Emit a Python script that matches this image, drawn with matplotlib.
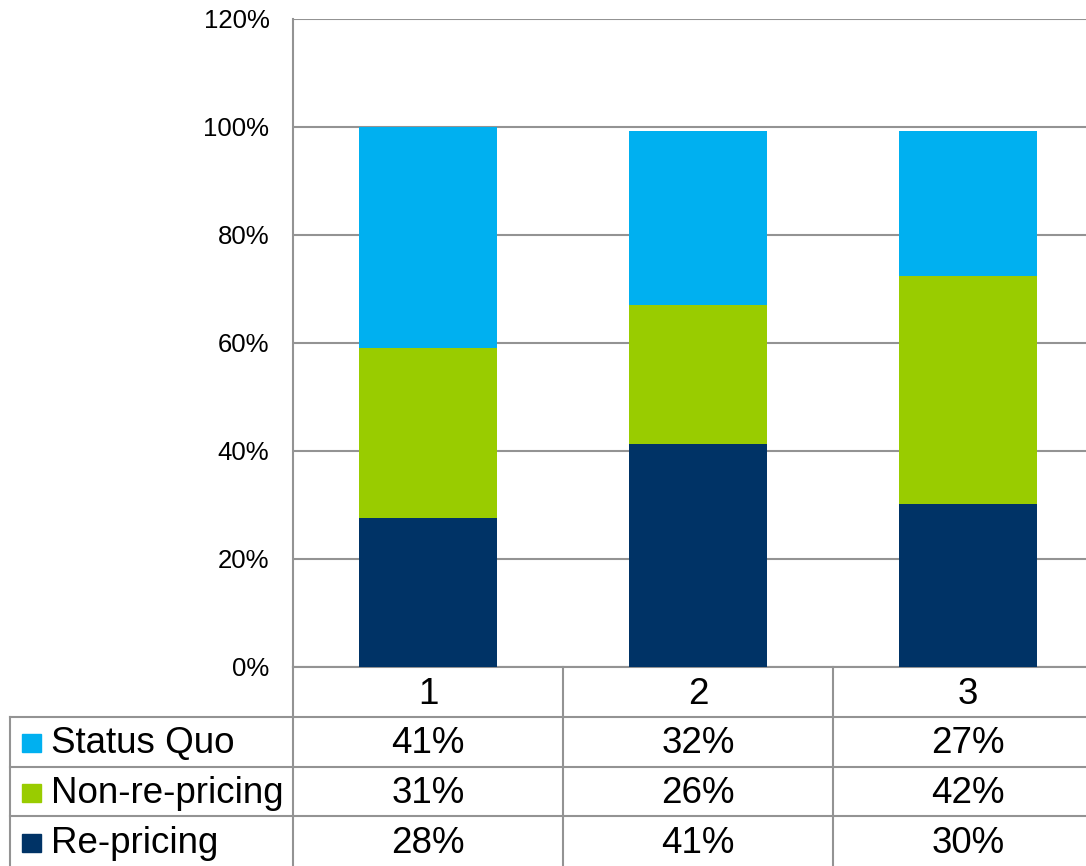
import matplotlib.pyplot as plt
from matplotlib.patches import Rectangle

plt.rcParams['font.family'] = ['Liberation Sans', 'DejaVu Sans']

# data
categories = ['1', '2', '3']
series_names = ['Status Quo', 'Non-re-pricing', 'Re-pricing']
re_pricing = [27.6, 41.3, 30.2]
non_re_pricing = [31.4, 25.8, 42.2]
status_quo = [41.0, 32.2, 26.9]
colors = {'Status Quo': '#00B0F0', 'Non-re-pricing': '#99CC00', 'Re-pricing': '#003366'}
y_ticks = [0, 20, 40, 60, 80, 100, 120]

W, H = 1086, 866
fig = plt.figure(figsize=(W / 100, H / 100), dpi=100)

grid_col = '#939393'
ax_left, ax_right, ax_top, ax_bottom = 293, 1103, 19, 667
ax = fig.add_axes([ax_left / W, (H - ax_bottom) / H,
                   (ax_right - ax_left) / W, (ax_bottom - ax_top) / H])

x = list(range(len(categories)))
bottom2 = [a + b for a, b in zip(re_pricing, non_re_pricing)]
ax.bar(x, re_pricing, width=0.51, color=colors['Re-pricing'], zorder=3)
ax.bar(x, non_re_pricing, width=0.51, bottom=re_pricing,
       color=colors['Non-re-pricing'], zorder=3)
ax.bar(x, status_quo, width=0.51, bottom=bottom2,
       color=colors['Status Quo'], zorder=3)

ax.set_xlim(-0.5, 2.5)
ax.set_ylim(0, 120)
ax.set_yticks(y_ticks)
ax.set_yticklabels([f'{t}%' for t in y_ticks], fontsize=18.5)
ax.set_xticks([])
ax.tick_params(axis='y', length=0, pad=17)
ax.grid(axis='y', color=grid_col, linewidth=1.5, zorder=0)
for s in ['top', 'right']:
    ax.spines[s].set_visible(False)
ax.spines['left'].set_color(grid_col)
ax.spines['left'].set_linewidth(1.5)
ax.spines['bottom'].set_color(grid_col)
ax.spines['bottom'].set_linewidth(1.5)

# data table under the chart
tab = fig.add_axes([ax_left / W, 0, (ax_right - ax_left) / W, (H - ax_bottom) / H],
                   sharex=ax)
tab.set_ylim(4, 0)
tab.axis('off')
left_edge = -0.5 - (ax_left - 10) / 270
lw = 1.5
fs = 26.5

# vertical lines
for xv in [-0.5, 0.5, 1.5, 2.5]:
    tab.plot([xv, xv], [0, 4.2], color=grid_col, lw=lw, clip_on=False)
tab.plot([left_edge, left_edge], [1, 4.2], color=grid_col, lw=lw, clip_on=False)
# horizontal lines
for yv in [1, 2, 3]:
    tab.plot([left_edge, 2.5], [yv, yv], color=grid_col, lw=lw, clip_on=False)

for i, c in enumerate(categories):
    tab.text(i, 0.56, c, ha='center', va='center', fontsize=fs, clip_on=False)

table_values = {'Status Quo': status_quo, 'Non-re-pricing': non_re_pricing,
                'Re-pricing': re_pricing}
for r, name in enumerate(series_names):
    yc = r + 1.5
    tab.add_patch(Rectangle((left_edge + 12 / 270, yc - 0.15), 19 / 270, 0.36,
                            color=colors[name], clip_on=False))
    tab.text(left_edge + 41 / 270, yc + 0.04, name, ha='left', va='center',
             fontsize=fs, clip_on=False)
    for i, v in enumerate(table_values[name]):
        tab.text(i, yc + 0.04, f'{round(v)}%', ha='center', va='center',
                 fontsize=fs, clip_on=False)

fig.savefig('out.png', dpi=100)
